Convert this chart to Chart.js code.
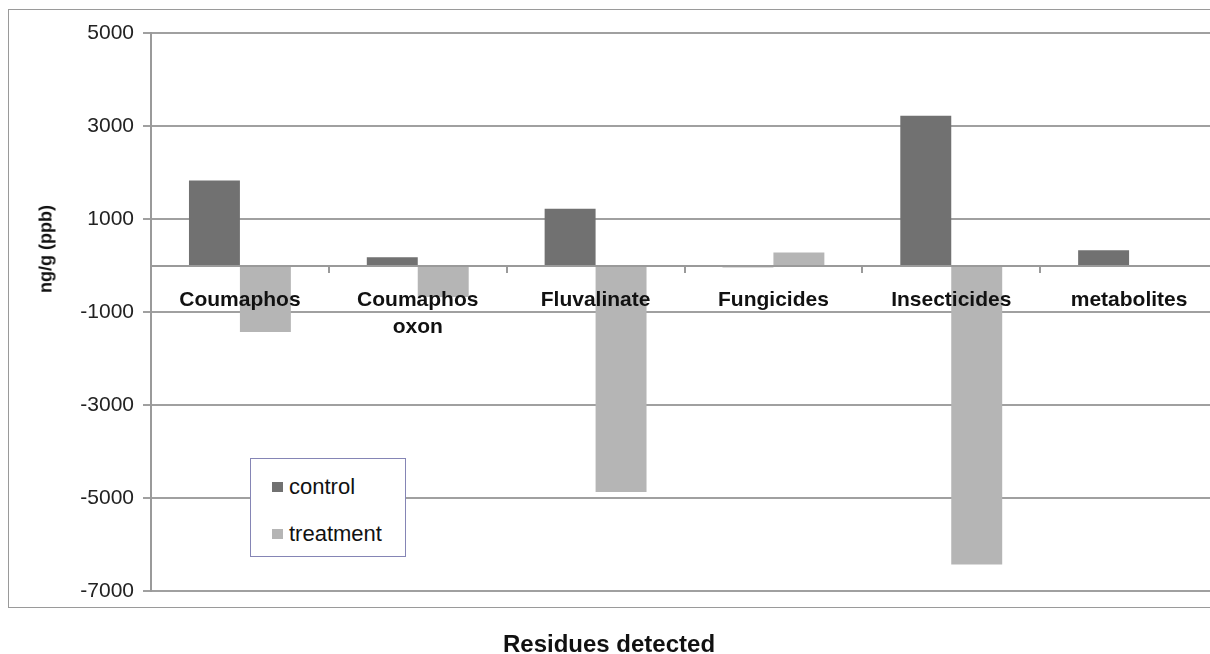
<!DOCTYPE html>
<html>
<head>
<meta charset="utf-8">
<script src="https://cdn.jsdelivr.net/npm/chart.js@4"></script>
<style>
  body { margin: 0; background: #fff; font-family: "Liberation Sans", Arial, sans-serif; }
  #wrap { position: relative; width: 1210px; height: 654px; overflow: hidden; }
  #frame { position: absolute; left: 8px; top: 9px; width: 1300px; height: 597px;
           border: 1.5px solid #9a9a9a; border-right: none; }
  canvas { position: absolute; left: 0; top: 0; }
  #ytitle { position: absolute; left: 46px; top: 249px; transform: translate(-50%, -50%) rotate(-90deg);
            font-weight: bold; font-size: 18px; color: #111; white-space: nowrap; }
  #xtitle { position: absolute; left: 609px; top: 644px; transform: translate(-50%, -50%);
            font-weight: bold; font-size: 24px; color: #111; white-space: nowrap; }
  #legend { position: absolute; left: 250px; top: 458px; width: 154px; height: 97px; background: #fff;
            border: 1.5px solid #8585b5; }
  .item { position: absolute; left: 21px; font-size: 22px; color: #111; display: flex; align-items: center; height: 24px; }
  .item span.box { display: inline-block; width: 11px; height: 10px; margin-right: 6px; }
</style>
</head>
<body>
<div id="wrap">
  <div id="frame"></div>
  <canvas id="barChart" width="1240" height="654"></canvas>
  <div id="ytitle">ng/g (ppb)</div>
  <div id="xtitle">Residues detected</div>
  <div id="legend"></div>
</div>
<script>
// data
var categories = [["Coumaphos"], ["Coumaphos", "oxon"], "Fluvalinate", "Fungicides", "Insecticides", "metabolites"];
var control = [1830, 180, 1220, -40, 3220, 330];
var treatment = [-1430, -680, -4870, 280, -6430, -30];
var yTicks = [-7000, -5000, -3000, -1000, 1000, 3000, 5000];

var ctxB = document.getElementById("barChart").getContext('2d');
var myBarChart = new Chart(ctxB, {
  type: 'bar',
  data: {
    labels: categories,
    datasets: [{
        label: "control",
        data: control,
        backgroundColor: '#717171',
        borderWidth: 0
      },
      {
        label: "treatment",
        data: treatment,
        backgroundColor: '#b5b5b5',
        borderWidth: 0
      }
    ]
  },
  options: {
    responsive: false,
    animation: false,
    // plot runs past the right edge of the picture, like the cropped original
    layout: { padding: { left: 0, top: 33, right: 22, bottom: 63 } },
    plugins: {
      legend: { display: false },
      tooltip: { enabled: false }
    },
    datasets: {
      bar: { categoryPercentage: 0.573, barPercentage: 1.0 }
    },
    scales: {
      x: {
        position: { y: 0 },
        grid: { display: true, drawOnChartArea: false, drawTicks: true, tickLength: 6, offset: true, color: '#9a9a9a', lineWidth: 2, z: 1 },
        border: { display: true, color: '#9a9a9a', width: 2, z: 1 },
        ticks: {
          z: 2,
          color: '#111',
          padding: 16,
          maxRotation: 0,
          autoSkip: false,
          font: { family: 'Liberation Sans', size: 21, weight: 'bold', lineHeight: 1.25 }
        }
      },
      y: {
        min: -7000,
        max: 5000,
        afterFit: function(scale) { scale.width = 151; },
        afterBuildTicks: function(scale) { scale.ticks = yTicks.map(function(v) { return { value: v }; }); },
        grid: { color: '#a0a0a0', lineWidth: 2, drawTicks: true, tickLength: 8 },
        border: { display: true, color: '#9a9a9a', width: 2 },
        ticks: {
          color: '#222',
          padding: 9,
          font: { family: 'Liberation Sans', size: 21 },
          callback: function(v) { return String(v); }
        }
      }
    }
  }
});

// legend box inside the plot, built from the datasets
var leg = document.getElementById('legend');
myBarChart.data.datasets.forEach(function(ds, i) {
  var d = document.createElement('div');
  d.className = 'item';
  d.style.top = (i === 0 ? 16 : 63) + 'px';
  d.innerHTML = '<span class="box" style="background:' + ds.backgroundColor + '"></span>' + ds.label;
  leg.appendChild(d);
});
</script>
</body>
</html>
